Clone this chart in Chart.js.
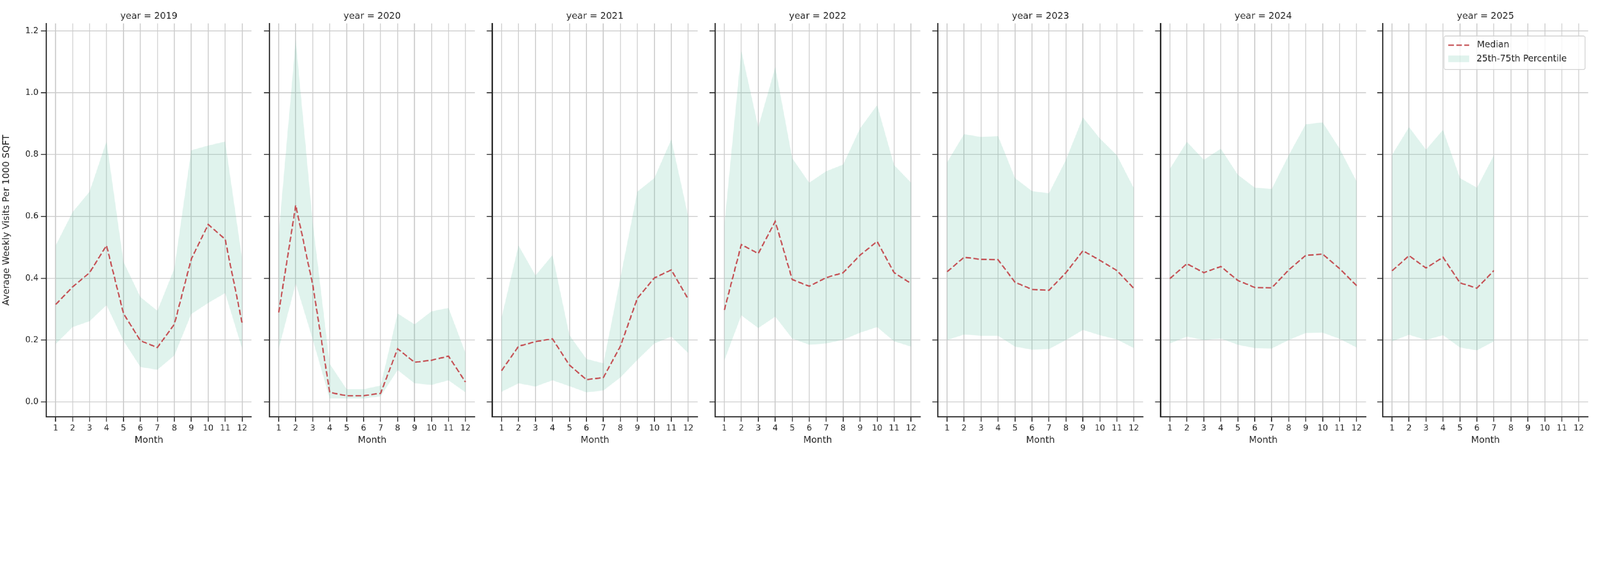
<!DOCTYPE html>
<html><head><meta charset="utf-8">
<script src="https://cdn.jsdelivr.net/npm/chart.js@4/dist/chart.umd.min.js"></script>
<style>html,body{margin:0;padding:0;background:#fff;overflow:hidden}#wrap{position:absolute;left:0;top:0;width:5250px;height:1500px;transform-origin:0 0;background:#fff}canvas{position:absolute;top:0}</style>
</head><body><div id="wrap"></div>
<script>
const years = [2019, 2020, 2021, 2022, 2023, 2024, 2025];
const months = [1,2,3,4,5,6,7,8,9,10,11,12];
const yTicks = [0.0, 0.2, 0.4, 0.6, 0.8, 1.0, 1.2];

const median2019 = [0.315,0.372,0.418,0.506,0.286,0.198,0.176,0.251,0.462,0.574,0.526,0.255];
const p75_2019   = [0.506,0.614,0.680,0.843,0.453,0.339,0.295,0.431,0.814,0.829,0.842,0.462];
const p25_2019   = [0.187,0.242,0.261,0.313,0.198,0.113,0.104,0.150,0.284,0.320,0.352,0.172];

const median2020 = [0.289,0.636,0.379,0.031,0.020,0.020,0.028,0.172,0.128,0.135,0.148,0.064];
const p75_2020   = [0.546,1.171,0.581,0.123,0.041,0.041,0.053,0.286,0.251,0.293,0.304,0.158];
const p25_2020   = [0.172,0.383,0.202,0.011,0.011,0.011,0.018,0.103,0.060,0.055,0.070,0.031];

const median2021 = [0.101,0.180,0.195,0.204,0.119,0.072,0.079,0.180,0.335,0.401,0.427,0.332];
const p75_2021   = [0.273,0.506,0.409,0.475,0.216,0.139,0.125,0.401,0.680,0.724,0.849,0.599];
const p25_2021   = [0.033,0.060,0.050,0.070,0.051,0.031,0.037,0.079,0.136,0.189,0.211,0.158];

const median2022 = [0.297,0.509,0.480,0.584,0.396,0.374,0.402,0.418,0.475,0.519,0.418,0.383];
const p75_2022   = [0.572,1.136,0.889,1.083,0.788,0.709,0.746,0.768,0.885,0.960,0.766,0.709];
const p25_2022   = [0.134,0.280,0.239,0.276,0.205,0.185,0.189,0.201,0.224,0.242,0.196,0.179];

const median2023 = [0.421,0.468,0.461,0.460,0.387,0.364,0.361,0.418,0.489,0.458,0.425,0.367];
const p75_2023   = [0.775,0.866,0.857,0.860,0.724,0.682,0.675,0.783,0.920,0.852,0.798,0.691];
const p25_2023   = [0.200,0.218,0.214,0.214,0.179,0.169,0.171,0.200,0.233,0.216,0.202,0.174];

const median2024 = [0.399,0.447,0.418,0.438,0.393,0.370,0.369,0.427,0.474,0.478,0.431,0.376];
const p75_2024   = [0.754,0.841,0.783,0.819,0.735,0.693,0.689,0.798,0.898,0.904,0.819,0.713];
const p25_2024   = [0.189,0.211,0.200,0.205,0.185,0.174,0.173,0.200,0.223,0.224,0.204,0.176];

const median2025 = [0.424,0.473,0.433,0.468,0.385,0.368,0.425];
const p75_2025   = [0.799,0.889,0.816,0.880,0.724,0.693,0.798];
const p25_2025   = [0.196,0.217,0.200,0.216,0.176,0.167,0.196];

const seriesByYear = {
  2019:[median2019,p25_2019,p75_2019], 2020:[median2020,p25_2020,p75_2020],
  2021:[median2021,p25_2021,p75_2021], 2022:[median2022,p25_2022,p75_2022],
  2023:[median2023,p25_2023,p75_2023], 2024:[median2024,p25_2024,p75_2024],
  2025:[median2025,p25_2025,p75_2025]
};

const wrap = document.getElementById('wrap');
const k = Math.min(window.innerWidth / 5250, window.innerHeight / 1500);
wrap.style.transform = 'scale(' + k + ')';
const dpr = (window.devicePixelRatio || 1) * k;

const panelLefts = [152, 884, 1615, 2346, 3077, 3808, 4537];
const panelW = 673, areaTop = 77, areaBottom = 1367, H = 1500;
const FONT = "'DejaVu Sans', sans-serif";
const dark = '#262626';
const fillCol = 'rgba(102,194,165,0.2)';
const medCol = '#c44e52';

years.forEach((yr, i) => {
  const first = i === 0, last = i === years.length - 1;
  const axisW = first ? 152 : 30;
  const canvasLeft = panelLefts[i] - axisW;
  const W = axisW + panelW + 12;
  const c = document.createElement('canvas');
  c.style.left = canvasLeft + 'px';
  c.style.width = W + 'px'; c.style.height = H + 'px';
  c.width = W; c.height = H;
  wrap.appendChild(c);
  const [med, lo, hi] = seriesByYear[yr];
  const pts = arr => arr.map((v, j) => ({x: months[j], y: v}));

  const overlay = {
    id: 'overlay' + i,
    afterDraw(chart) {
      const ctx = chart.ctx, a = chart.chartArea;
      ctx.save();
      ctx.fillStyle = dark;
      ctx.font = '30px ' + FONT;
      ctx.textAlign = 'center'; ctx.textBaseline = 'middle';
      ctx.fillText('year = ' + yr, (a.left + a.right) / 2, 54);
      if (last) {
        const bx = a.right - 472, by = 118, bw = 462, bh = 110;
        ctx.fillStyle = 'rgba(255,255,255,0.8)';
        ctx.strokeStyle = '#d0d0d0'; ctx.lineWidth = 2.5;
        ctx.beginPath(); ctx.roundRect(bx, by, bw, bh, 6); ctx.fill(); ctx.stroke();
        ctx.strokeStyle = medCol; ctx.lineWidth = 4.5; ctx.setLineDash([18, 8]);
        ctx.beginPath(); ctx.moveTo(bx + 14, by + 30); ctx.lineTo(bx + 82, by + 30); ctx.stroke();
        ctx.setLineDash([]);
        ctx.fillStyle = fillCol; ctx.fillRect(bx + 14, by + 64, 68, 22);
        ctx.fillStyle = dark; ctx.font = '29px ' + FONT;
        ctx.textAlign = 'left';
        ctx.fillText('Median', bx + 108, by + 30);
        ctx.fillText('25th-75th Percentile', bx + 106, by + 76);
      }
      ctx.restore();
    }
  };

  new Chart(c, {
    type: 'line',
    data: {
      datasets: [
        {label: '75th', data: pts(hi), borderWidth: 0, pointRadius: 0, fill: '+1', backgroundColor: fillCol, borderColor: 'rgba(0,0,0,0)', order: 2},
        {label: '25th', data: pts(lo), borderWidth: 0, pointRadius: 0, fill: false, borderColor: 'rgba(0,0,0,0)', order: 2},
        {label: 'Median', data: pts(med), borderColor: medCol, borderWidth: 4.5, borderDash: [18, 8], pointRadius: 0, fill: false, order: 1}
      ]
    },
    options: {
      responsive: false, animation: false, devicePixelRatio: dpr,
      layout: {padding: {top: areaTop, right: 12, bottom: 0, left: 0}},
      plugins: {legend: {display: false}, tooltip: {enabled: false}, title: {display: false}},
      scales: {
        x: {
          type: 'linear', min: 0.45, max: 12.55,
          afterBuildTicks: s => { s.ticks = months.map(v => ({value: v})); },
          afterFit: s => { s.height = H - areaBottom; },
          grid: {color: '#cccccc', lineWidth: 3, tickColor: dark, tickLength: 16, tickWidth: 3},
          border: {color: dark, width: 4},
          ticks: {color: dark, font: {size: 27, family: FONT}, padding: 6, maxRotation: 0, autoSkip: false, callback: v => String(v)},
          title: {display: true, text: 'Month', color: dark, font: {size: 30, family: FONT}, padding: {top: 2, bottom: 38}}
        },
        y: {
          min: -0.048, max: 1.224,
          afterBuildTicks: s => { s.ticks = yTicks.map(v => ({value: v})); },
          afterFit: s => { s.width = axisW; },
          grid: {color: '#cccccc', lineWidth: 3, tickColor: dark, tickLength: 18, tickWidth: 3},
          border: {color: dark, width: 4},
          ticks: {display: first, color: dark, font: {size: 27, family: FONT}, padding: 8, callback: v => v.toFixed(1)},
          title: {display: first, text: 'Average Weekly Visits Per 1000 SQFT', color: dark, font: {size: 30, family: FONT}, padding: {bottom: 6}}
        }
      }
    },
    plugins: [overlay]
  });
});
</script>
</body></html>
